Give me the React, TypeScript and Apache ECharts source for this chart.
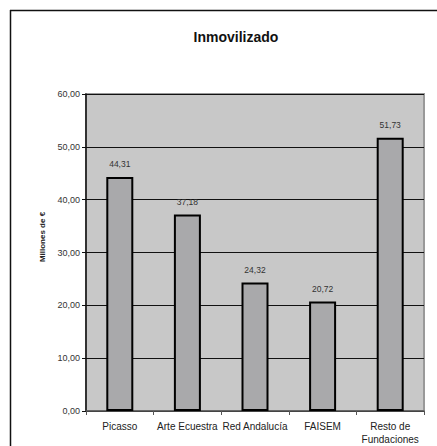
import React, { useEffect, useRef } from "react";
import * as echarts from "echarts";

const categories = ["Picasso", "Arte Ecuestra", "Red Andalucía", "FAISEM", "Resto de\nFundaciones"];
const values = [44.31, 37.18, 24.32, 20.72, 51.73];
const yTicks = { min: 0, max: 60, interval: 10 };
const title = "Inmovilizado";
const yName = "Millones de €";

const fmt = (v: number) => v.toFixed(2).replace(".", ",");

export default function App() {
  const ref = useRef<HTMLDivElement>(null);
  useEffect(() => {
    const chart = echarts.init(ref.current!, null, { renderer: "svg" });
    const font = "Liberation Sans, Arial, sans-serif";
    chart.setOption({
      animation: false,
      backgroundColor: "#ffffff",
      textStyle: { fontFamily: font },
      title: {
        text: title,
        left: 231,
        top: 25,
        textAlign: "center",
        textStyle: { fontSize: 14, fontWeight: "bold", color: "#111", fontFamily: font },
      },
      graphic: [
        { type: "line", shape: { x1: 10, y1: 10.5, x2: 437, y2: 10.5 }, style: { stroke: "#111", lineWidth: 1.5 } },
        { type: "line", shape: { x1: 10.5, y1: 10, x2: 10.5, y2: 446 }, style: { stroke: "#111", lineWidth: 1.5 } },
        {
          type: "text",
          x: 42,
          y: 237,
          rotation: Math.PI / 2,
          style: { text: yName, fontSize: 8, fontWeight: "bold", fill: "#222", align: "center", verticalAlign: "middle", fontFamily: font },
        },
      ],
      grid: {
        left: 86,
        top: 94,
        right: 13,
        bottom: 34,
        show: true,
        backgroundColor: "#c8c8c8",
        borderColor: "#999999",
        borderWidth: 2,
      },
      xAxis: {
        type: "category",
        data: categories,
        axisLine: { lineStyle: { color: "#555", width: 1.5 } },
        axisTick: { show: true, alignWithLabel: false, length: 4, lineStyle: { color: "#555" } },
        axisLabel: { fontSize: 10, color: "#222", margin: 9, lineHeight: 13, interval: 0, fontFamily: font },
      },
      yAxis: {
        type: "value",
        min: yTicks.min,
        max: yTicks.max,
        interval: yTicks.interval,
        axisLine: { show: true, lineStyle: { color: "#111", width: 1.5 } },
        axisTick: { show: true, length: 4, lineStyle: { color: "#111" } },
        splitLine: { show: true, lineStyle: { color: "#111", width: 1 } },
        axisLabel: { fontSize: 9, color: "#333", margin: 6, formatter: (v: number) => fmt(v), fontFamily: font },
      },
      series: [
        {
          type: "bar",
          data: values,
          barWidth: 27,
          itemStyle: { color: "#a9a9ab", borderColor: "#000", borderWidth: 2 },
          label: {
            show: true,
            position: "top",
            distance: 8,
            fontSize: 8.5,
            color: "#333",
            fontFamily: font,
            formatter: (p: any) => fmt(p.value),
          },
        },
      ],
    });
    return () => chart.dispose();
  }, []);
  return <div ref={ref} style={{ position: "fixed", left: 0, top: 0, width: 437, height: 446 }} />;
}
